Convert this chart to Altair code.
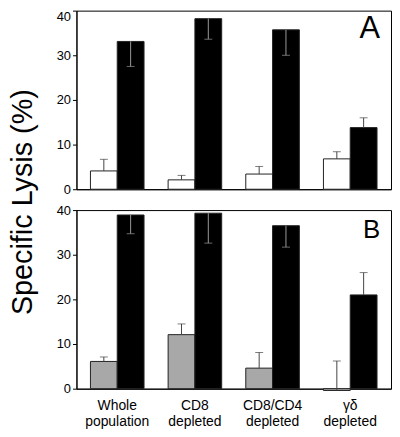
import altair as alt
import pandas as pd

groups = ["Whole\npopulation", "CD8\ndepleted", "CD8/CD4\ndepleted", "γδ\ndepleted"]

# Panel A: open (white) and filled (black) bars, with error-bar end values
a_open = [4.1, 2.1, 3.4, 6.8]
a_open_err = [6.7, 3.1, 5.1, 8.4]
a_filled = [33.1, 38.2, 35.7, 13.8]
a_filled_err = [27.5, 33.6, 30.0, 16.0]

# Panel B: open (gray) and filled (black) bars
b_open = [6.1, 12.1, 4.6, -0.4]
b_open_err = [7.1, 14.5, 8.1, 6.2]
b_filled = [38.9, 39.3, 36.5, 21.0]
b_filled_err = [34.7, 32.6, 31.7, 26.0]

y_title = ["Specific Lysis (%)"]

FONT = "Liberation Sans"
H = 180


def make_df(open_v, open_e, filled_v, filled_e, open_fill):
    rows = []
    for g, v, e in zip(groups, open_v, open_e):
        rows.append(dict(group=g, series="1", value=v, err=e, fill=open_fill))
    for g, v, e in zip(groups, filled_v, filled_e):
        rows.append(dict(group=g, series="2", value=v, err=e, fill="#000000"))
    return pd.DataFrame(rows)


def panel(df, letter, letter_size, bottom, top_flush):
    x = alt.X(
        "group:N",
        sort=groups,
        scale=alt.Scale(paddingInner=0.31, paddingOuter=0.18),
        axis=alt.Axis(
            title=None,
            labels=bottom,
            ticks=False,
            domain=True,
            domainColor="black",
            labelAngle=0,
            labelFont=FONT,
            labelFontSize=14,
            labelColor="black",
            labelPadding=10,
            labelLineHeight=16,
            labelExpr="split(datum.label, '\\n')",
        ),
    )
    ykw = dict(
        title=None,
        values=list(range(0, 41, 5)),
        labelExpr="datum.value % 10 == 0 ? datum.label : ''",
        tickSize=4,
        tickColor="black",
        domainColor="black",
        labelFont=FONT,
        labelFontSize=13,
        labelColor="black",
        labelPadding=2,
        grid=False,
    )
    if top_flush:
        ykw["labelBaseline"] = {
            "condition": {"test": "datum.value == 40", "value": "top"},
            "value": "middle",
        }
    y = alt.Y("value:Q", scale=alt.Scale(domain=[0, 40], nice=False), axis=alt.Axis(**ykw))

    base = alt.Chart(df)
    bars = base.mark_bar(stroke="#222222", strokeWidth=1, clip=False).encode(
        x=x,
        xOffset=alt.XOffset("series:N"),
        y=y,
        y2=alt.datum(0),
        fill=alt.Fill("fill:N", scale=None),
    )
    ecol = "datum.err < datum.value ? '#9a9a9a' : '#444444'"
    err = base.transform_calculate(ecol=ecol).mark_rule(strokeWidth=1).encode(
        x=x,
        xOffset=alt.XOffset("series:N"),
        y=alt.Y("value:Q"),
        y2="err:Q",
        color=alt.Color("ecol:N", scale=None),
    )
    cap = base.transform_calculate(ecol=ecol).mark_tick(size=8, thickness=1).encode(
        x=x,
        xOffset=alt.XOffset("series:N"),
        y=alt.Y("err:Q"),
        color=alt.Color("ecol:N", scale=None),
    )
    lab = alt.Chart(pd.DataFrame({"t": [letter]})).mark_text(
        font=FONT, fontSize=letter_size, align="right", baseline="alphabetic", color="black"
    ).encode(text="t:N", x=alt.value(306), y=alt.value(28))
    return alt.layer(bars, err, cap, lab).properties(
        width=317, height=H, view=alt.ViewBackground(stroke="black", strokeWidth=1)
    )


top = panel(make_df(a_open, a_open_err, a_filled, a_filled_err, "#ffffff"), "A", 31, False, True)
bot = panel(make_df(b_open, b_open_err, b_filled, b_filled_err, "#a8a8a8"), "B", 26, True, False)

title_chart = alt.Chart(pd.DataFrame({"t": y_title})).mark_text(
    font=FONT, fontSize=29, angle=270, align="center", baseline="middle", color="black"
).encode(text="t:N", x=alt.value(14), y=alt.value(193)).properties(
    width=28, height=360, view=alt.ViewBackground(stroke="transparent")
)

chart = (
    alt.hconcat(title_chart, alt.vconcat(top, bot, spacing=6), spacing=17)
    .properties(padding={"left": 0, "top": 0, "right": 0, "bottom": 0})
    .configure(background="white")
)

chart.save("out.html", embed_options={"renderer": "svg", "actions": False})
